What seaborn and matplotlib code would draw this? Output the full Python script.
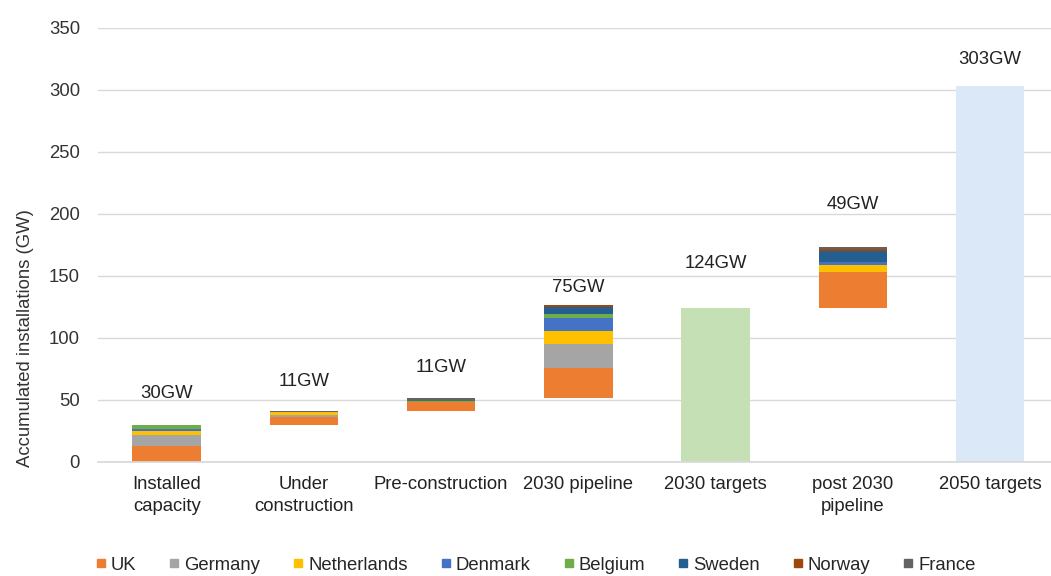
import matplotlib
matplotlib.use("Agg")
import matplotlib.pyplot as plt
import numpy as np
import seaborn as sns
from matplotlib.lines import Line2D

# Data (GW)
categories = ["Installed\ncapacity", "Under\nconstruction", "Pre-construction",
              "2030 pipeline", "2030 targets", "post 2030\npipeline", "2050 targets"]
countries = ["UK", "Germany", "Netherlands", "Denmark", "Belgium", "Sweden", "Norway", "France"]

uk = [13.0, 6.5, 7.5, 23.5, 0, 29.0, 0]
germany = [8.5, 1.5, 0.2, 20.0, 0, 0.0, 0]
netherlands = [3.5, 2.0, 0.0, 10.5, 0, 6.0, 0]
denmark = [2.0, 0.2, 0.0, 10.5, 0, 2.0, 0]
belgium = [2.5, 0.0, 0.2, 3.0, 0, 0.0, 0]
sweden = [0.2, 0.0, 0.0, 5.5, 0, 9.5, 0]
norway = [0.1, 0.0, 0.0, 1.5, 0, 1.5, 0]
france = [0.2, 0.8, 3.1, 0.5, 0, 1.0, 0]

targets = [0, 0, 0, 0, 124, 0, 303]
total_labels = [30, 11, 11, 75, 124, 49, 303]

country_colors = ["#ED7D31", "#A5A5A5", "#FFC000", "#4472C4",
                  "#70AD47", "#255E91", "#9E480E", "#636363"]
target_colors = {"2030 targets": "#C5E0B4", "2050 targets": "#DAE8F7"}

segments = np.array([uk, germany, netherlands, denmark, belgium, sweden, norway, france])
bar_totals = segments.sum(axis=0)

# Waterfall bases: first four stages stack on each other, post-2030 sits on the 2030 target
bases = np.zeros(len(categories))
bases[1:4] = np.cumsum(bar_totals[:3])
bases[5] = targets[4]

sns.set_theme(style="white")
plt.rcParams["font.family"] = ["Liberation Sans", "DejaVu Sans"]

fig = plt.figure(figsize=(10.51, 5.76), dpi=100)
ax = fig.add_axes([98 / 1051, 1 - 462 / 576, 1 - 98 / 1051, 434 / 576])

# Target bars
tgt_palette = {c: target_colors.get(c, "white") for c in categories}
sns.barplot(x=categories, y=targets, hue=categories, palette=tgt_palette, order=categories,
            width=0.5, errorbar=None, legend=False, saturation=1, ax=ax, linewidth=0, zorder=2)

# Stacked country segments
bottom = bases.copy()
for name, vals, col in zip(countries, segments, country_colors):
    sns.barplot(x=categories, y=vals, bottom=bottom, color=col, order=categories,
                width=0.5, errorbar=None, saturation=1, ax=ax, linewidth=0, zorder=2)
    bottom = bottom + vals

# Total labels above bars
label_offset = [25, 24, 24.5, 14, 36, 35, 22]
tops = np.maximum(bases + bar_totals, targets)
for i, (t, lab) in enumerate(zip(tops, total_labels)):
    ax.text(i, t + label_offset[i], f"{lab}GW", ha="center", va="center",
            fontsize=13.3, color="#222222")

ax.set_ylim(0, 350)
ax.set_xlim(-0.5, (1051 - 167) / 137.2)
ax.set_yticks(range(0, 351, 50))
ax.yaxis.grid(True, color="#D9D9D9", linewidth=1, zorder=0)
ax.set_axisbelow(True)
for s in ["top", "right", "left"]:
    ax.spines[s].set_visible(False)
ax.spines["bottom"].set_color("#D9D9D9")
ax.tick_params(axis="y", length=0, pad=13, labelsize=13.3, labelcolor="#333333")
ax.tick_params(axis="x", length=0, pad=10, labelsize=13.3, labelcolor="#222222")
for lbl in ax.get_xticklabels():
    lbl.set_linespacing(1.4)
ax.set_xlabel("")
ax.set_ylabel("Accumulated installations (GW)", fontsize=13.3, color="#333333")
ax.yaxis.set_label_coords(-0.067, 0.286)

handles = [Line2D([0], [0], marker="s", linestyle="none", markersize=6,
                  markerfacecolor=c, markeredgecolor=c) for c in country_colors]
fig.legend(handles, countries, loc="center", bbox_to_anchor=(0.51, 1 - 565 / 576),
           ncol=8, frameon=False, fontsize=13.3, handlelength=0.5, handletextpad=0.3,
           columnspacing=1.8)

fig.savefig("out.png", dpi=100)
